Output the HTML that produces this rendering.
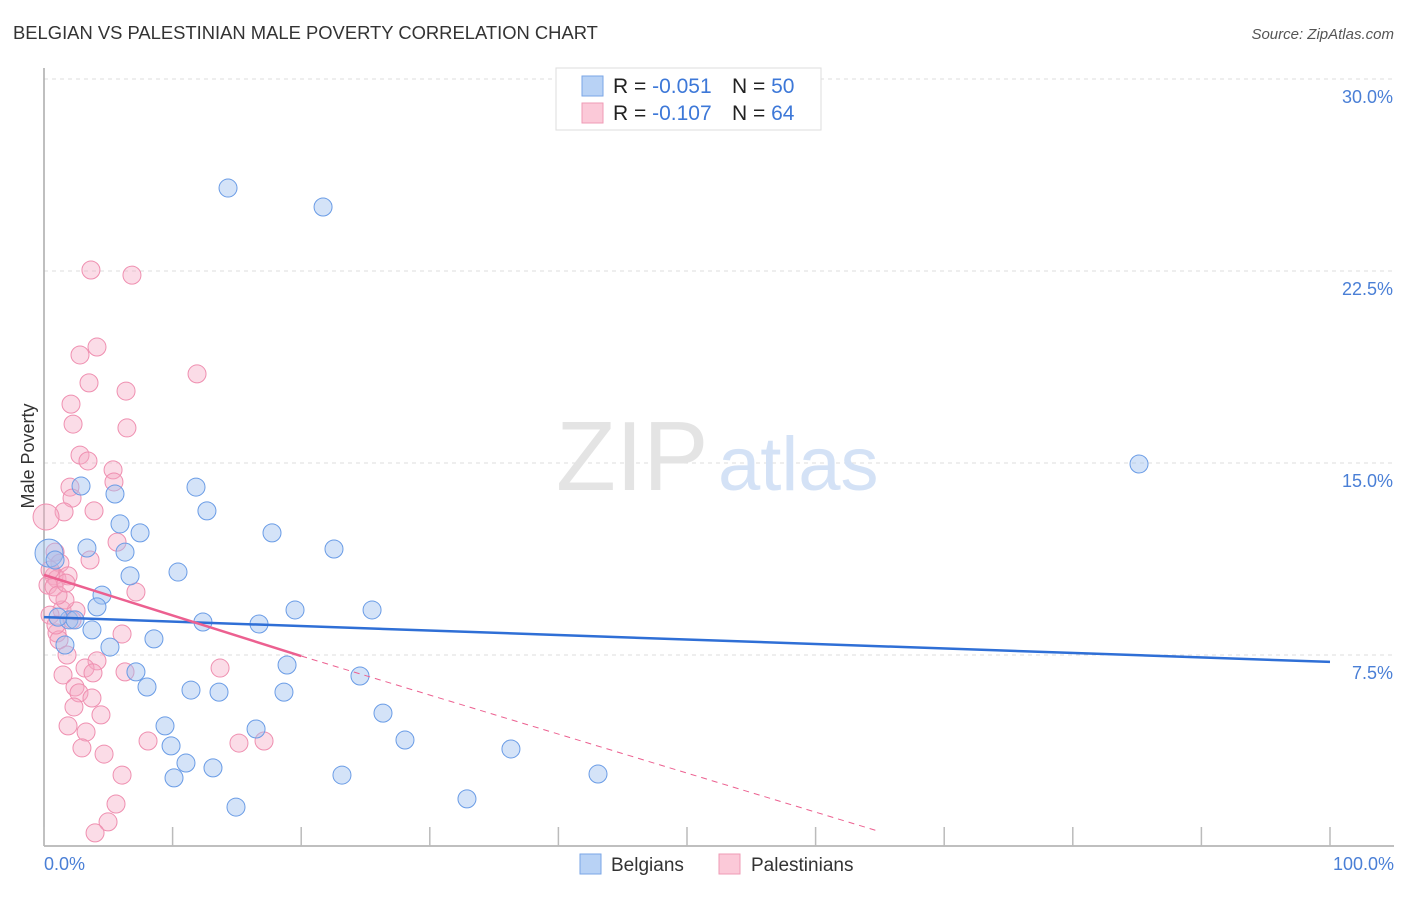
<!DOCTYPE html>
<html><head><meta charset="utf-8"><style>
body{margin:0;background:#fff;font-family:"Liberation Sans",sans-serif;}
svg text{font-family:"Liberation Sans",sans-serif;}
</style></head><body>
<svg id="chart" width="1406" height="892">
<text x="13" y="39" font-size="18.4" fill="#333">BELGIAN VS PALESTINIAN MALE POVERTY CORRELATION CHART</text>
<text x="1394" y="39" font-size="15" fill="#555" font-style="italic" text-anchor="end">Source: ZipAtlas.com</text>
<g id="grid"></g>
<text x="556" y="490" font-size="98" fill="#e4e4e4" font-family="Liberation Serif">ZIP</text>
<text x="718" y="490" font-size="76" fill="#d4e2f6">atlas</text>
<line x1="44" y1="68" x2="44" y2="846" stroke="#aaa" stroke-width="1.5"/>
<line x1="44" y1="846" x2="1394" y2="846" stroke="#aaa" stroke-width="1.5"/>
<text transform="translate(34,456) rotate(-90)" font-size="18" fill="#333" text-anchor="middle">Male Poverty</text>
<text x="44" y="870" font-size="18" fill="#4a7fd6">0.0%</text>
<text x="1394" y="870" font-size="18" fill="#4a7fd6" text-anchor="end">100.0%</text>
<g id="ticks"></g>
<g id="marks"></g>
<g id="trends"></g>
<g>
<rect x="556" y="68" width="265" height="62" fill="#fff" stroke="#ddd"/>
<rect x="582" y="76" width="21" height="20" fill="#b8d2f5" stroke="#7aa6e6"/>
<rect x="582" y="103" width="21" height="20" fill="#fbc9d8" stroke="#ef9bb6"/>
<text x="613" y="93" font-size="21" fill="#222">R = <tspan fill="#3d78d8">-0.051</tspan></text>
<text x="732" y="93" font-size="21" fill="#222">N = <tspan fill="#3d78d8">50</tspan></text>
<text x="613" y="120" font-size="21" fill="#222">R = <tspan fill="#3d78d8">-0.107</tspan></text>
<text x="732" y="120" font-size="21" fill="#222">N = <tspan fill="#3d78d8">64</tspan></text>
</g>
<g>
<rect x="580" y="854" width="21" height="20" fill="#b8d2f5" stroke="#7aa6e6"/>
<text x="611" y="871" font-size="19" fill="#333">Belgians</text>
<rect x="719" y="854" width="21" height="20" fill="#fbc9d8" stroke="#ef9bb6"/>
<text x="751" y="871" font-size="19" fill="#333">Palestinians</text>
</g>
</svg>
<script>
const yTicks=[7.5,15,22.5,30];
const yTickLabels=["7.5%","15.0%","22.5%","30.0%"];
const xTicks=[0,10,20,30,40,50,60,70,80,90,100];
const belgianX=[14.31,21.70,85.15,2.88,11.82,5.52,12.67,5.91,7.47,17.73,3.34,22.55,6.30,0.39,10.42,6.69,4.51,4.12,19.52,25.51,12.36,16.72,1.94,1.09,3.73,8.55,5.13,1.63,18.90,7.15,24.57,8.01,11.43,13.61,18.66,26.36,9.41,16.49,28.07,9.88,36.31,11.04,13.14,23.17,43.08,10.11,32.89,14.93,2.41,0.86];
const belgianY=[25.74,25.0,14.96,14.10,14.06,13.79,13.13,12.62,12.27,12.27,11.68,11.64,11.52,11.48,10.74,10.59,9.84,9.38,9.26,9.26,8.79,8.71,8.87,8.98,8.48,8.13,7.81,7.89,7.11,6.84,6.68,6.25,6.13,6.05,6.05,5.23,4.73,4.61,4.18,3.95,3.83,3.28,3.09,2.81,2.85,2.70,1.88,1.56,8.87,11.21];
const palX=[3.65,6.84,4.12,2.80,11.90,3.50,6.38,2.10,2.26,6.45,2.80,3.42,5.37,2.02,5.44,2.18,3.89,1.56,0.16,5.68,0.86,1.24,0.78,1.01,1.87,0.31,0.78,7.15,1.40,2.49,0.47,2.18,1.01,6.07,1.17,1.79,4.12,13.69,3.19,3.81,6.30,1.48,2.41,2.72,3.73,2.33,4.43,1.87,3.27,8.09,15.16,17.11,2.95,4.67,6.07,5.60,4.98,3.97,0.93,1.63,0.47,1.09,1.71,3.58];
const palY=[22.54,22.34,19.53,19.22,18.48,18.13,17.81,17.30,16.52,16.37,15.31,15.08,14.73,14.06,14.26,13.63,13.13,13.09,12.89,11.91,11.52,11.09,10.59,10.47,10.59,10.23,10.16,9.96,9.26,9.22,9.06,8.87,8.36,8.32,8.09,7.50,7.27,6.99,6.99,6.80,6.84,6.72,6.25,6.02,5.82,5.47,5.16,4.73,4.49,4.14,4.06,4.14,3.87,3.63,2.81,1.68,0.98,0.55,8.67,9.65,10.82,9.84,10.31,11.21];
const belgianTrend=[8.98,7.23];
const palTrend=[10.63,7.46,0.6];
const palTrendX=[0,20,65];
const NS="http://www.w3.org/2000/svg";
function sx(v){return 44+v*12.86;}
function sy(v){return 847-v*25.6;}
function mk(tag,attrs,parent){const e=document.createElementNS(NS,tag);for(const k in attrs)e.setAttribute(k,attrs[k]);parent.appendChild(e);return e;}
const grid=document.getElementById('grid');
yTicks.forEach((t,i)=>{
 const l=mk('line',{x1:44,x2:1394,y1:sy(t),y2:sy(t),stroke:'#ddd','stroke-dasharray':'4,4'},grid);
 
 
 const tx=mk('text',{x:1393,y:sy(t)+24,'font-size':18,fill:'#4a7fd6','text-anchor':'end'},grid);
 tx.textContent=yTickLabels[i];
 
 
});
const ticks=document.getElementById('ticks');
xTicks.forEach(t=>{
 const l=mk('line',{x1:sx(t),x2:sx(t),y1:827,y2:846,stroke:'#bbb','stroke-width':1.5},ticks);
 
 
});
const marks=document.getElementById('marks');
palX.forEach((x,i)=>{
 const c=mk('circle',{cx:sx(x),cy:sy(palY[i]),r:i==18?13:9,fill:'rgba(246,168,194,0.4)',stroke:'#ef8fb0','stroke-width':1},marks);
 
 
});
belgianX.forEach((x,i)=>{
 const c=mk('circle',{cx:sx(x),cy:sy(belgianY[i]),r:i==13?14:9,fill:'rgba(160,194,240,0.45)',stroke:'#6a9ce6','stroke-width':1},marks);
 
 
});
const tr=document.getElementById('trends');
const bl=mk('line',{x1:sx(0),y1:sy(belgianTrend[0]),x2:sx(100),y2:sy(belgianTrend[1]),stroke:'#2f6fd6','stroke-width':2.5},tr);


const pl=mk('line',{x1:sx(palTrendX[0]),y1:sy(palTrend[0]),x2:sx(palTrendX[1]),y2:sy(palTrend[1]),stroke:'#ec6090','stroke-width':2.5},tr);


const pd=mk('line',{x1:sx(palTrendX[1]),y1:sy(palTrend[1]),x2:sx(palTrendX[2]),y2:sy(palTrend[2]),stroke:'#ec6090','stroke-width':1,'stroke-dasharray':'6,5'},tr);


</script>
</body></html>
